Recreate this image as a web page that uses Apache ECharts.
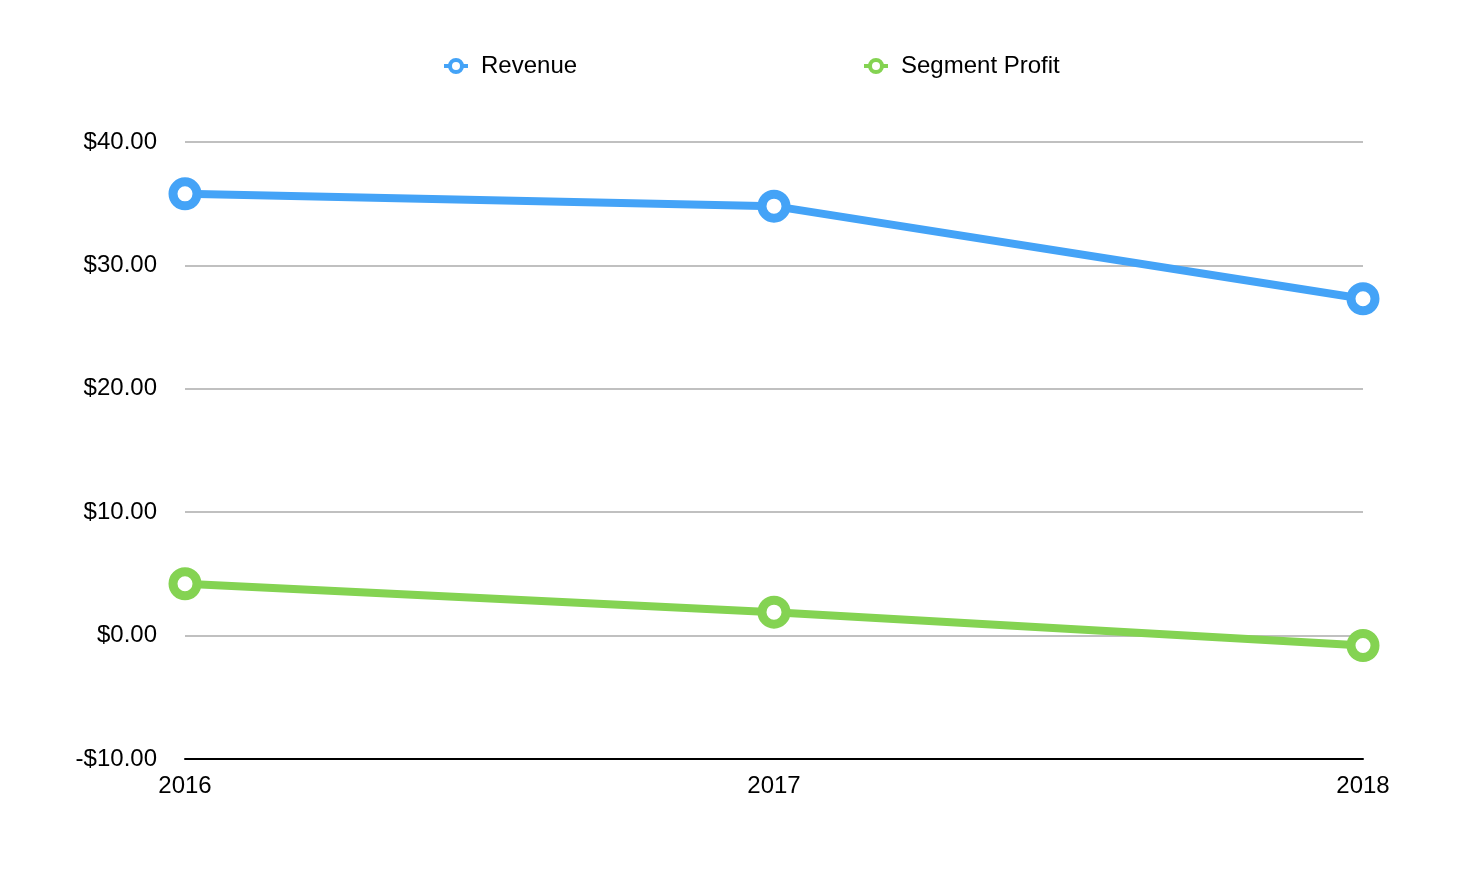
<!DOCTYPE html>
<html>
<head>
<meta charset="utf-8">
<title>Revenue and Segment Profit</title>
<script src="https://cdn.jsdelivr.net/npm/echarts@6/dist/echarts.min.js"></script>
<style>
  html, body { margin: 0; padding: 0; background: #fff; }
  #chart { width: 1480px; height: 878px; }
</style>
</head>
<body>
<div id="chart"></div>
<script>
// data
var years = ['2016', '2017', '2018'];
var revenue = [35.8, 34.8, 27.3];
var segmentProfit = [4.2, 1.9, -0.8];
var yTicks = { min: -10, max: 40, interval: 10 };

var blue = '#44a3f7';
var green = '#84d352';
var font = '"Liberation Sans", Arial, sans-serif';

var chart = echarts.init(document.getElementById('chart'));

function lineSeries(name, data, color) {
    return {
        name: name,
        type: 'line',
        data: data,
        symbol: 'circle',
        symbolSize: 24,
        lineStyle: { color: color, width: 8 },
        itemStyle: { color: '#fff', borderColor: color, borderWidth: 9 },
        emphasis: { disabled: true },
        z: 3
    };
}

function legendAt(name, color, left) {
    return {
        data: [{ name: name, itemStyle: { color: '#fff', borderColor: color, borderWidth: 4 }, lineStyle: { color: color, width: 4 } }],
        left: left, top: 49,
        itemWidth: 24, itemHeight: 15,
        textStyle: { fontSize: 24, color: '#000', fontFamily: font, padding: [0, 0, 0, 8] }
    };
}

chart.setOption({
    animation: false,
    textStyle: { fontFamily: font },
    legend: [
        legendAt('Revenue', blue, 437),
        legendAt('Segment Profit', green, 857)
    ],
    grid: { left: 185, right: 117, top: 142, bottom: 119 },
    xAxis: {
        type: 'category',
        data: years,
        boundaryGap: false,
        axisLine: { onZero: false, lineStyle: { color: '#000', width: 2 } },
        axisTick: { show: false },
        axisLabel: { color: '#000', fontSize: 24, margin: 15, fontFamily: font }
    },
    yAxis: {
        type: 'value',
        min: yTicks.min,
        max: yTicks.max,
        interval: yTicks.interval,
        axisLine: { show: false },
        axisTick: { show: false },
        splitLine: { lineStyle: { color: '#c0c0c0', width: 2 } },
        axisLabel: {
            color: '#000', fontSize: 24, margin: 28, fontFamily: font,
            padding: [6, 0, 0, 0],
            formatter: function (v) {
                return (v < 0 ? '-$' : '$') + Math.abs(v).toFixed(2);
            }
        }
    },
    series: [
        lineSeries('Revenue', revenue, blue),
        lineSeries('Segment Profit', segmentProfit, green)
    ]
});
</script>
</body>
</html>
